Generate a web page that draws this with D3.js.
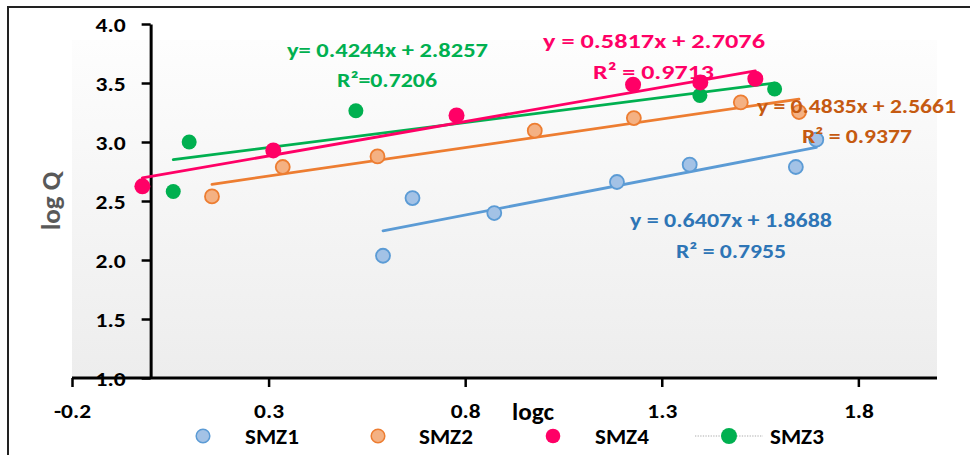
<!DOCTYPE html>
<html>
<head>
<meta charset="utf-8">
<script src="https://cdn.jsdelivr.net/npm/d3@7"></script>
<style>
  html, body { margin: 0; padding: 0; background: #fff; }
  svg { display: block; font-family: Carlito, Calibri, Lato, sans-serif; font-weight: bold; }
</style>
</head>
<body>
<svg id="chart" width="970" height="455"></svg>
<script>
// ---- data ----
const smz1X = [0.591, 0.666, 0.874, 1.186, 1.371, 1.641, 1.693];
const smz1Y = [2.036, 2.525, 2.398, 2.661, 2.808, 2.788, 3.020];
const smz2X = [0.156, 0.336, 0.577, 0.977, 1.229, 1.501, 1.649];
const smz2Y = [2.539, 2.788, 2.878, 3.096, 3.203, 3.336, 3.254];
const smz4X = [-0.021, 0.312, 0.778, 1.227, 1.398, 1.538];
const smz4Y = [2.624, 2.929, 3.225, 3.486, 3.505, 3.536];
const smz3X = [0.0575, 0.098, 0.522, 1.397, 1.587];
const smz3Y = [2.581, 3.000, 3.265, 3.395, 3.449];
const fitSlope = { SMZ1: 0.6407, SMZ2: 0.4835, SMZ4: 0.5817, SMZ3: 0.4244 };
const fitIntercept = { SMZ1: 1.8688, SMZ2: 2.5661, SMZ4: 2.7076, SMZ3: 2.8257 };
const eqLabels = {
  SMZ3: ["y= 0.4244x + 2.8257", "R\u00B2=0.7206"],
  SMZ4: ["y = 0.5817x + 2.7076", "R\u00B2 = 0.9713"],
  SMZ2: ["y = 0.4835x + 2.5661", "R\u00B2 = 0.9377"],
  SMZ1: ["y = 0.6407x + 1.8688", "R\u00B2 = 0.7955"]
};
const xTicks = [-0.2, 0.3, 0.8, 1.3, 1.8];
const yTicks = [1.0, 1.5, 2.0, 2.5, 3.0, 3.5, 4.0];
const legendOrder = ["SMZ1", "SMZ2", "SMZ4", "SMZ3"];

// ---- styles / layout ----
const FONT = "Carlito, Calibri, Lato, sans-serif";
const styles = {
  SMZ1: { fill: "#a3c2e6", stroke: "#5b9bd5", line: "#5b9bd5", text: "#2e75b6", r: 7 },
  SMZ2: { fill: "#f4b183", stroke: "#ed7d31", line: "#ed7d31", text: "#c55a11", r: 7 },
  SMZ4: { fill: "#ff0066", stroke: "none", line: "#ff0066", text: "#ff0066", r: 8 },
  SMZ3: { fill: "#00b050", stroke: "none", line: "#00b050", text: "#00b050", r: 7.5 }
};
const series = {
  SMZ1: d3.zip(smz1X, smz1Y),
  SMZ2: d3.zip(smz2X, smz2Y),
  SMZ4: d3.zip(smz4X, smz4Y),
  SMZ3: d3.zip(smz3X, smz3Y)
};
const fmt = d => d3.format(".1f")(d).replace("\u2212", "-");

// stretch text horizontally by factor k (reference uses a wide rendering)
function stretch(sel, k) {
  sel.each(function () {
    const w = this.getComputedTextLength();
    d3.select(this).attr("textLength", w * k).attr("lengthAdjust", "spacingAndGlyphs");
  });
}

const svg = d3.select("#chart");
const x = d3.scaleLinear().domain([-0.2, 2.0]).range([72, 937]);
const y = d3.scaleLinear().domain([1, 4]).range([378, 24]);

// outer frame
svg.append("line").attr("x1", 7).attr("x2", 970).attr("y1", 7).attr("y2", 7)
  .attr("stroke", "#222").attr("stroke-width", 2);
svg.append("line").attr("x1", 8).attr("x2", 8).attr("y1", 6).attr("y2", 455)
  .attr("stroke", "#222").attr("stroke-width", 2);

// plot background gradient
const defs = svg.append("defs");
const grad = defs.append("linearGradient").attr("id", "bg").attr("x1", 0).attr("x2", 0).attr("y1", 0).attr("y2", 1);
grad.append("stop").attr("offset", "0%").attr("stop-color", "#fdfdfd");
grad.append("stop").attr("offset", "100%").attr("stop-color", "#ededed");
svg.append("rect").attr("x", x(-0.2)).attr("y", 40).attr("width", x(2.0) - x(-0.2)).attr("height", y(1) - 40)
  .attr("fill", "url(#bg)");

// y axis at x = 0
const yAxis = svg.append("g").attr("transform", `translate(${x(0)},0)`)
  .call(d3.axisLeft(y).tickValues(yTicks).tickSize(9).tickSizeOuter(0).tickPadding(16).tickFormat(fmt));
yAxis.select(".domain").attr("stroke", "#000").attr("stroke-width", 3);
yAxis.selectAll(".tick line").attr("stroke", "#000").attr("stroke-width", 2.5);
yAxis.selectAll(".tick text").attr("font-size", 21).attr("font-family", FONT)
  .attr("font-weight", "bold").attr("fill", "#000").attr("dy", "0.37em").call(stretch, 1.12);

// x axis
const xAxis = svg.append("g").attr("transform", `translate(0,${y(1)})`)
  .call(d3.axisBottom(x).tickValues(xTicks).tickSize(9).tickSizeOuter(0).tickPadding(17).tickFormat(fmt));
xAxis.select(".domain").attr("stroke", "#000").attr("stroke-width", 3).attr("d", `M${x(-0.2)},0H${x(2.0)}`);
xAxis.selectAll(".tick line").attr("stroke", "#000").attr("stroke-width", 2.5);
xAxis.selectAll(".tick text").attr("font-size", 20).attr("font-family", FONT)
  .attr("font-weight", "bold").attr("fill", "#000").attr("dy", "0.72em").call(stretch, 1.17);

// axis titles
svg.append("text").attr("x", 533).attr("y", 420).attr("text-anchor", "middle")
  .attr("font-size", 24).attr("fill", "#000").text("logc").call(stretch, 1.05);
svg.append("text").attr("transform", "translate(60,201) rotate(-90)").attr("text-anchor", "middle")
  .attr("font-size", 27).attr("fill", "#595959").text("log Q");

// trend lines
const drawOrder = ["SMZ1", "SMZ2", "SMZ3", "SMZ4"];
drawOrder.forEach(k => {
  const xs = series[k].map(d => d[0]);
  const x0 = d3.min(xs), x1 = d3.max(xs);
  const m = fitSlope[k], b = fitIntercept[k];
  svg.append("line")
    .attr("x1", x(x0)).attr("y1", y(m * x0 + b))
    .attr("x2", x(x1)).attr("y2", y(m * x1 + b))
    .attr("stroke", styles[k].line).attr("stroke-width", 2.8).attr("stroke-linecap", "round");
});

// points
drawOrder.forEach(k => {
  const s = styles[k];
  svg.append("g").selectAll("circle").data(series[k]).join("circle")
    .attr("cx", d => x(d[0])).attr("cy", d => y(d[1])).attr("r", s.r)
    .attr("fill", s.fill).attr("stroke", s.stroke).attr("stroke-width", 1.8);
});

// equation labels: [centre x, baseline y, width]
const labelPos = {
  SMZ3: [[387.5, 57, 201], [387, 87, 100]],
  SMZ4: [[654, 48, 222], [653.5, 79, 121]],
  SMZ2: [[856.5, 113, 199], [857, 143, 110]],
  SMZ1: [[731, 227, 202], [731, 258, 110]]
};
Object.keys(eqLabels).forEach(k => {
  eqLabels[k].forEach((t, i) => {
    const p = labelPos[k][i];
    svg.append("text").attr("x", p[0]).attr("y", p[1]).attr("text-anchor", "middle")
      .attr("font-size", k === "SMZ4" ? 21 : 20).attr("fill", styles[k].text)
      .attr("textLength", p[2]).attr("lengthAdjust", "spacingAndGlyphs").text(t);
  });
});

// legend
const legendPos = { SMZ1: [203, 245], SMZ2: [378, 419], SMZ4: [553, 595], SMZ3: [729, 770] };
legendOrder.forEach(k => {
  const s = styles[k];
  const [mx, tx] = legendPos[k];
  if (k === "SMZ3") {
    svg.append("line").attr("x1", mx - 34).attr("x2", mx + 34).attr("y1", 436).attr("y2", 436)
      .attr("stroke", "#c8c8c8").attr("stroke-width", 1.3).attr("stroke-dasharray", "1.3,1.3");
  }
  svg.append("circle").attr("cx", mx).attr("cy", 436).attr("r", k === "SMZ4" ? 7.3 : (k === "SMZ3" ? 8 : 6.8))
    .attr("fill", s.fill).attr("stroke", s.stroke).attr("stroke-width", 1.5);
  svg.append("text").attr("x", tx).attr("y", 444).attr("font-size", 22).attr("fill", "#000").text(k)
    .call(stretch, 1.05);
});
</script>
</body>
</html>
